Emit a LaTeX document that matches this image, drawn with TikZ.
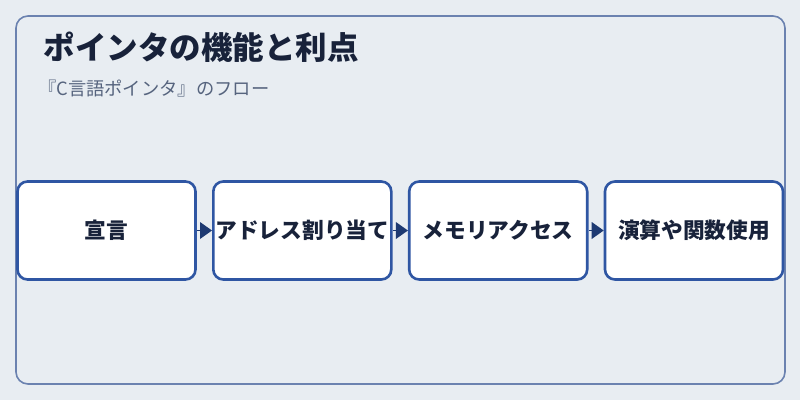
\documentclass[tikz,border=0pt]{standalone}
\usepackage{fontspec}
\setmainfont{Noto Sans CJK JP}
\usetikzlibrary{arrows.meta}
\definecolor{pagebg}{HTML}{E8EDF2}
\definecolor{framecol}{HTML}{6B82B0}
\definecolor{boxcol}{HTML}{2F56A3}
\definecolor{tipcol}{HTML}{1E3A72}
\definecolor{inkcol}{HTML}{18223A}
\definecolor{subcol}{HTML}{56647E}
\tikzset{
  stepbox/.style={draw=boxcol, line width=2.6pt, fill=white, rounded corners=10pt,
    minimum width=178pt, minimum height=98pt, inner sep=0pt,
    font=\fontsize{21.7pt}{26pt}\selectfont\bfseries, text=inkcol},
  flow/.style={-{Triangle[length=12pt,width=17pt]}, draw=tipcol, fill=tipcol, line width=0pt, shorten <=0.5pt, shorten >=0pt}
}
\begin{document}
\begin{tikzpicture}[x=1pt,y=-1pt]
            \fill[pagebg] (0,0) rectangle (800,400);
            \useasboundingbox (0,0) rectangle (800,400);
            \draw[framecol, line width=1.6pt, rounded corners=12pt] (16,16) rectangle (785,384);

            \node[anchor=base west, text=inkcol, font=\fontsize{31.5pt}{36pt}\selectfont\bfseries] (title) at (40,59) {ポインタの機能と利点};
            \node[anchor=base west, text=subcol, font=\fontsize{18.3pt}{22pt}\selectfont] (sub) at (34.5,95) {『C言語ポインタ』のフロー};

            \node[stepbox] (decl) at (106.5,230.5) {宣言};
            \node[stepbox] (addr) at (302.3,230.5) {アドレス割り当て};
            \node[stepbox] (mem) at (498.2,230.5) {メモリアクセス};
            \node[stepbox] (calc) at (694,230.5) {演算や関数使用};

            \draw[flow] (decl) to (addr); \draw[flow] (addr) to (mem);
            \draw[flow] (mem) to (calc);
        \end{tikzpicture}
\end{document}
